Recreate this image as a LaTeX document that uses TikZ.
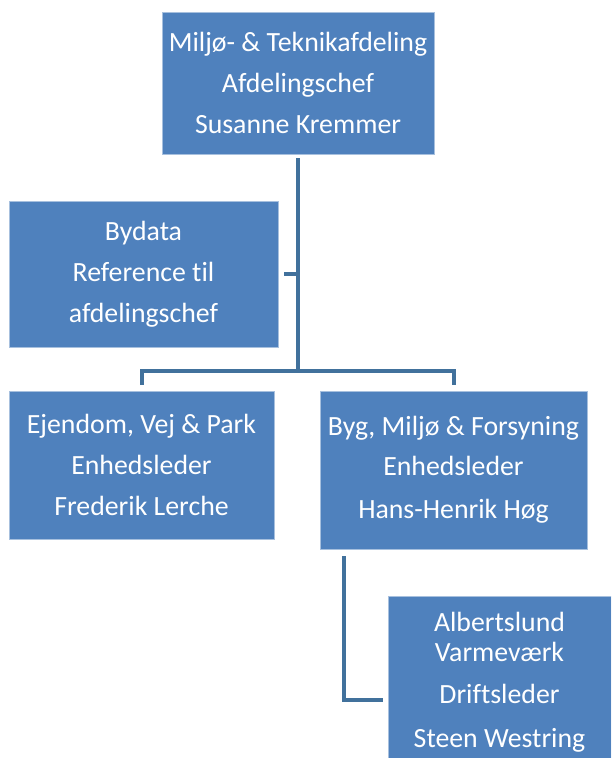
\documentclass[tikz,border=0pt]{standalone}
\usepackage{fontspec}
\setmainfont{Carlito}[Ligatures = NoCommon]
\usetikzlibrary{calc}

\definecolor{boxblue}{HTML}{4F81BD}
\definecolor{linkblue}{HTML}{41719C}
\definecolor{edgeblue}{HTML}{A7C0DE}

\tikzset{
    unit/.style = {draw = edgeblue, line width = .6pt, fill = boxblue, text = white,
        align = center, inner sep = 0pt,
        font = \fontsize{27.8}{41}\selectfont},
    conn/.style = {draw = linkblue, line width = 4pt}
}

\begin{document}
\begin{tikzpicture}[x = 1pt, y = -1pt]
    \clip (0,0) rectangle (611,758);
    \fill[white] (0,0) rectangle (611,758);
    \node[unit, minimum width = 272pt, minimum height = 142pt] (chef) at (298,83)
        {Milj\o- \& Teknikafdeling\\Afdelingschef\\Susanne Kremmer};
    \node[unit, minimum width = 269pt, minimum height = 146pt] (bydata) at (143.5,274)
        {Bydata\\Reference til\\afdelingschef};
    \node[unit, minimum width = 265pt, minimum height = 148pt] (evp) at (141.5,465)
        {Ejendom, Vej \& Park\\Enhedsleder\\Frederik Lerche};
    \node[unit, minimum width = 267pt, minimum height = 158pt] (bmf) at (453.5,470)
        {Byg, Milj\o{} \& Forsyning\\[-1pt]Enhedsleder\\[2pt]Hans-Henrik H\o g};
    \node[unit, minimum width = 223pt, minimum height = 172pt] (varme) at (499.5,682)
        {Albertslund\\[-11pt]Varmev\ae rk\\[1pt]Driftsleder\\[3pt]Steen Westring};
    \coordinate (hub) at (298,371);
    \coordinate (vtop) at ($(bmf.south west) + (24,0)$);
    \coordinate (vend) at ($(varme.west) + (0,18)$);
    % connectors
    \draw[conn, shorten <= 4pt] (chef.south) -- (hub);
    \draw[conn, shorten <= 6pt] (bydata.east) -- (bydata.east -| hub);
    \draw[conn, shorten <= 6pt, shorten >= 6pt] (evp.north) -- (evp.north |- hub)
        -- (bmf.north |- hub) -- (bmf.north);
    \draw[conn, shorten <= 7pt, shorten >= 5pt] (vtop) -- (vtop |- vend) -- (vend);
\end{tikzpicture}
\end{document}
